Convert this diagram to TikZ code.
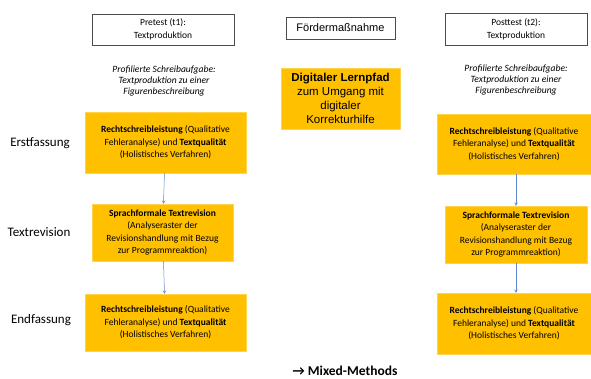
\documentclass[tikz,border=0pt]{standalone}
\usepackage{fontspec}
\setmainfont{Carlito}
\newfontfamily\arialfont{Liberation Sans}
\definecolor{boxorange}{HTML}{FFC000}
\definecolor{linkblue}{HTML}{4472C4}
\tikzset{
  headbox/.style={draw=black!70, rectangle, align=center, inner sep=0pt, font=\fontsize{9.5}{13}\selectfont},
  taskbox/.style={rectangle, fill=boxorange, draw=boxorange!70, align=center, inner sep=0pt, font=\fontsize{9.5}{12.5}\selectfont},
  phase/.style={font=\fontsize{13}{15}\selectfont},
  note/.style={align=center, font=\fontsize{9.6}{11}\selectfont\itshape},
  link/.style={->, linkblue!85, line width=0.5pt}
}
\begin{document}
\begin{tikzpicture}[x=1pt, y=-1pt, >=stealth]
\useasboundingbox (0,0) rectangle (591,378);

% Kopfzeile
\node[headbox, minimum width=142pt, minimum height=31pt] (pre) at (163,29.5) {Pretest (t1):\\Textproduktion};
\node[headbox, minimum width=109pt, minimum height=22pt, font=\arialfont\fontsize{11}{12}\selectfont] (foerder) at (340.5,28) {Fördermaßnahme};
\node[headbox, minimum width=142pt, minimum height=32pt] (post) at (516,29) {Posttest (t2):\\Textproduktion};

\node[note] (aufgabe1) at (164,81) {Profilierte Schreibaufgabe:\\Textproduktion zu einer\\Figurenbeschreibung};
\node[note] (aufgabe2) at (516,80) {Profilierte Schreibaufgabe:\\Textproduktion zu einer\\Figurenbeschreibung};

\node[taskbox, minimum width=119pt, minimum height=61pt, font=\arialfont\fontsize{11.5}{14}\selectfont] (lernpfad) at (340.5,98.5) {\textbf{Digitaler Lernpfad}\\zum Umgang mit\\digitaler\\Korrekturhilfe};

% Phasen
\node[phase] (erst) at (40,143) {Erstfassung};
\node[phase] (revision) at (39,232) {Textrevision};
\node[phase] (end) at (41,320) {Endfassung};

% Pretest
\node[taskbox, minimum width=161pt, minimum height=61pt] (pre1) at (165.5,142.5) {\textbf{Rechtschreibleistung} (Qualitative\\Fehleranalyse) und \textbf{Textqualität}\\(Holistisches Verfahren)};
\node[taskbox, minimum width=141pt, minimum height=57pt] (pre2) at (162.5,232.5) {\textbf{Sprachformale Textrevision}\\(Analyseraster der\\Revisionshandlung mit Bezug\\zur Programmreaktion)};
\node[taskbox, minimum width=161pt, minimum height=57pt] (pre3) at (165.5,322.5) {\textbf{Rechtschreibleistung} (Qualitative\\Fehleranalyse) und \textbf{Textqualität}\\(Holistisches Verfahren)};

% Posttest
\node[taskbox, minimum width=154pt, minimum height=60pt] (post1) at (514,144) {\textbf{Rechtschreibleistung} (Qualitative\\Fehleranalyse) und \textbf{Textqualität}\\(Holistisches Verfahren)};
\node[taskbox, minimum width=142pt, minimum height=57pt] (post2) at (516,234.5) {\textbf{Sprachformale Textrevision}\\(Analyseraster der\\Revisionshandlung mit Bezug\\zur Programmreaktion)};
\node[taskbox, minimum width=154pt, minimum height=61pt] (post3) at (514,323.5) {\textbf{Rechtschreibleistung} (Qualitative\\Fehleranalyse) und \textbf{Textqualität}\\(Holistisches Verfahren)};

\draw[link] (pre1) -- (pre2);
\draw[link] (pre2) -- (pre3);
\draw[link] (post1.south -| post2) -- (post2);
\draw[link] (post2) -- (post3.north -| post2);

\node[font=\fontsize{13.5}{15}\selectfont\bfseries] (mixed) at (345,371) {→ Mixed-Methods};
\end{tikzpicture}
\end{document}
